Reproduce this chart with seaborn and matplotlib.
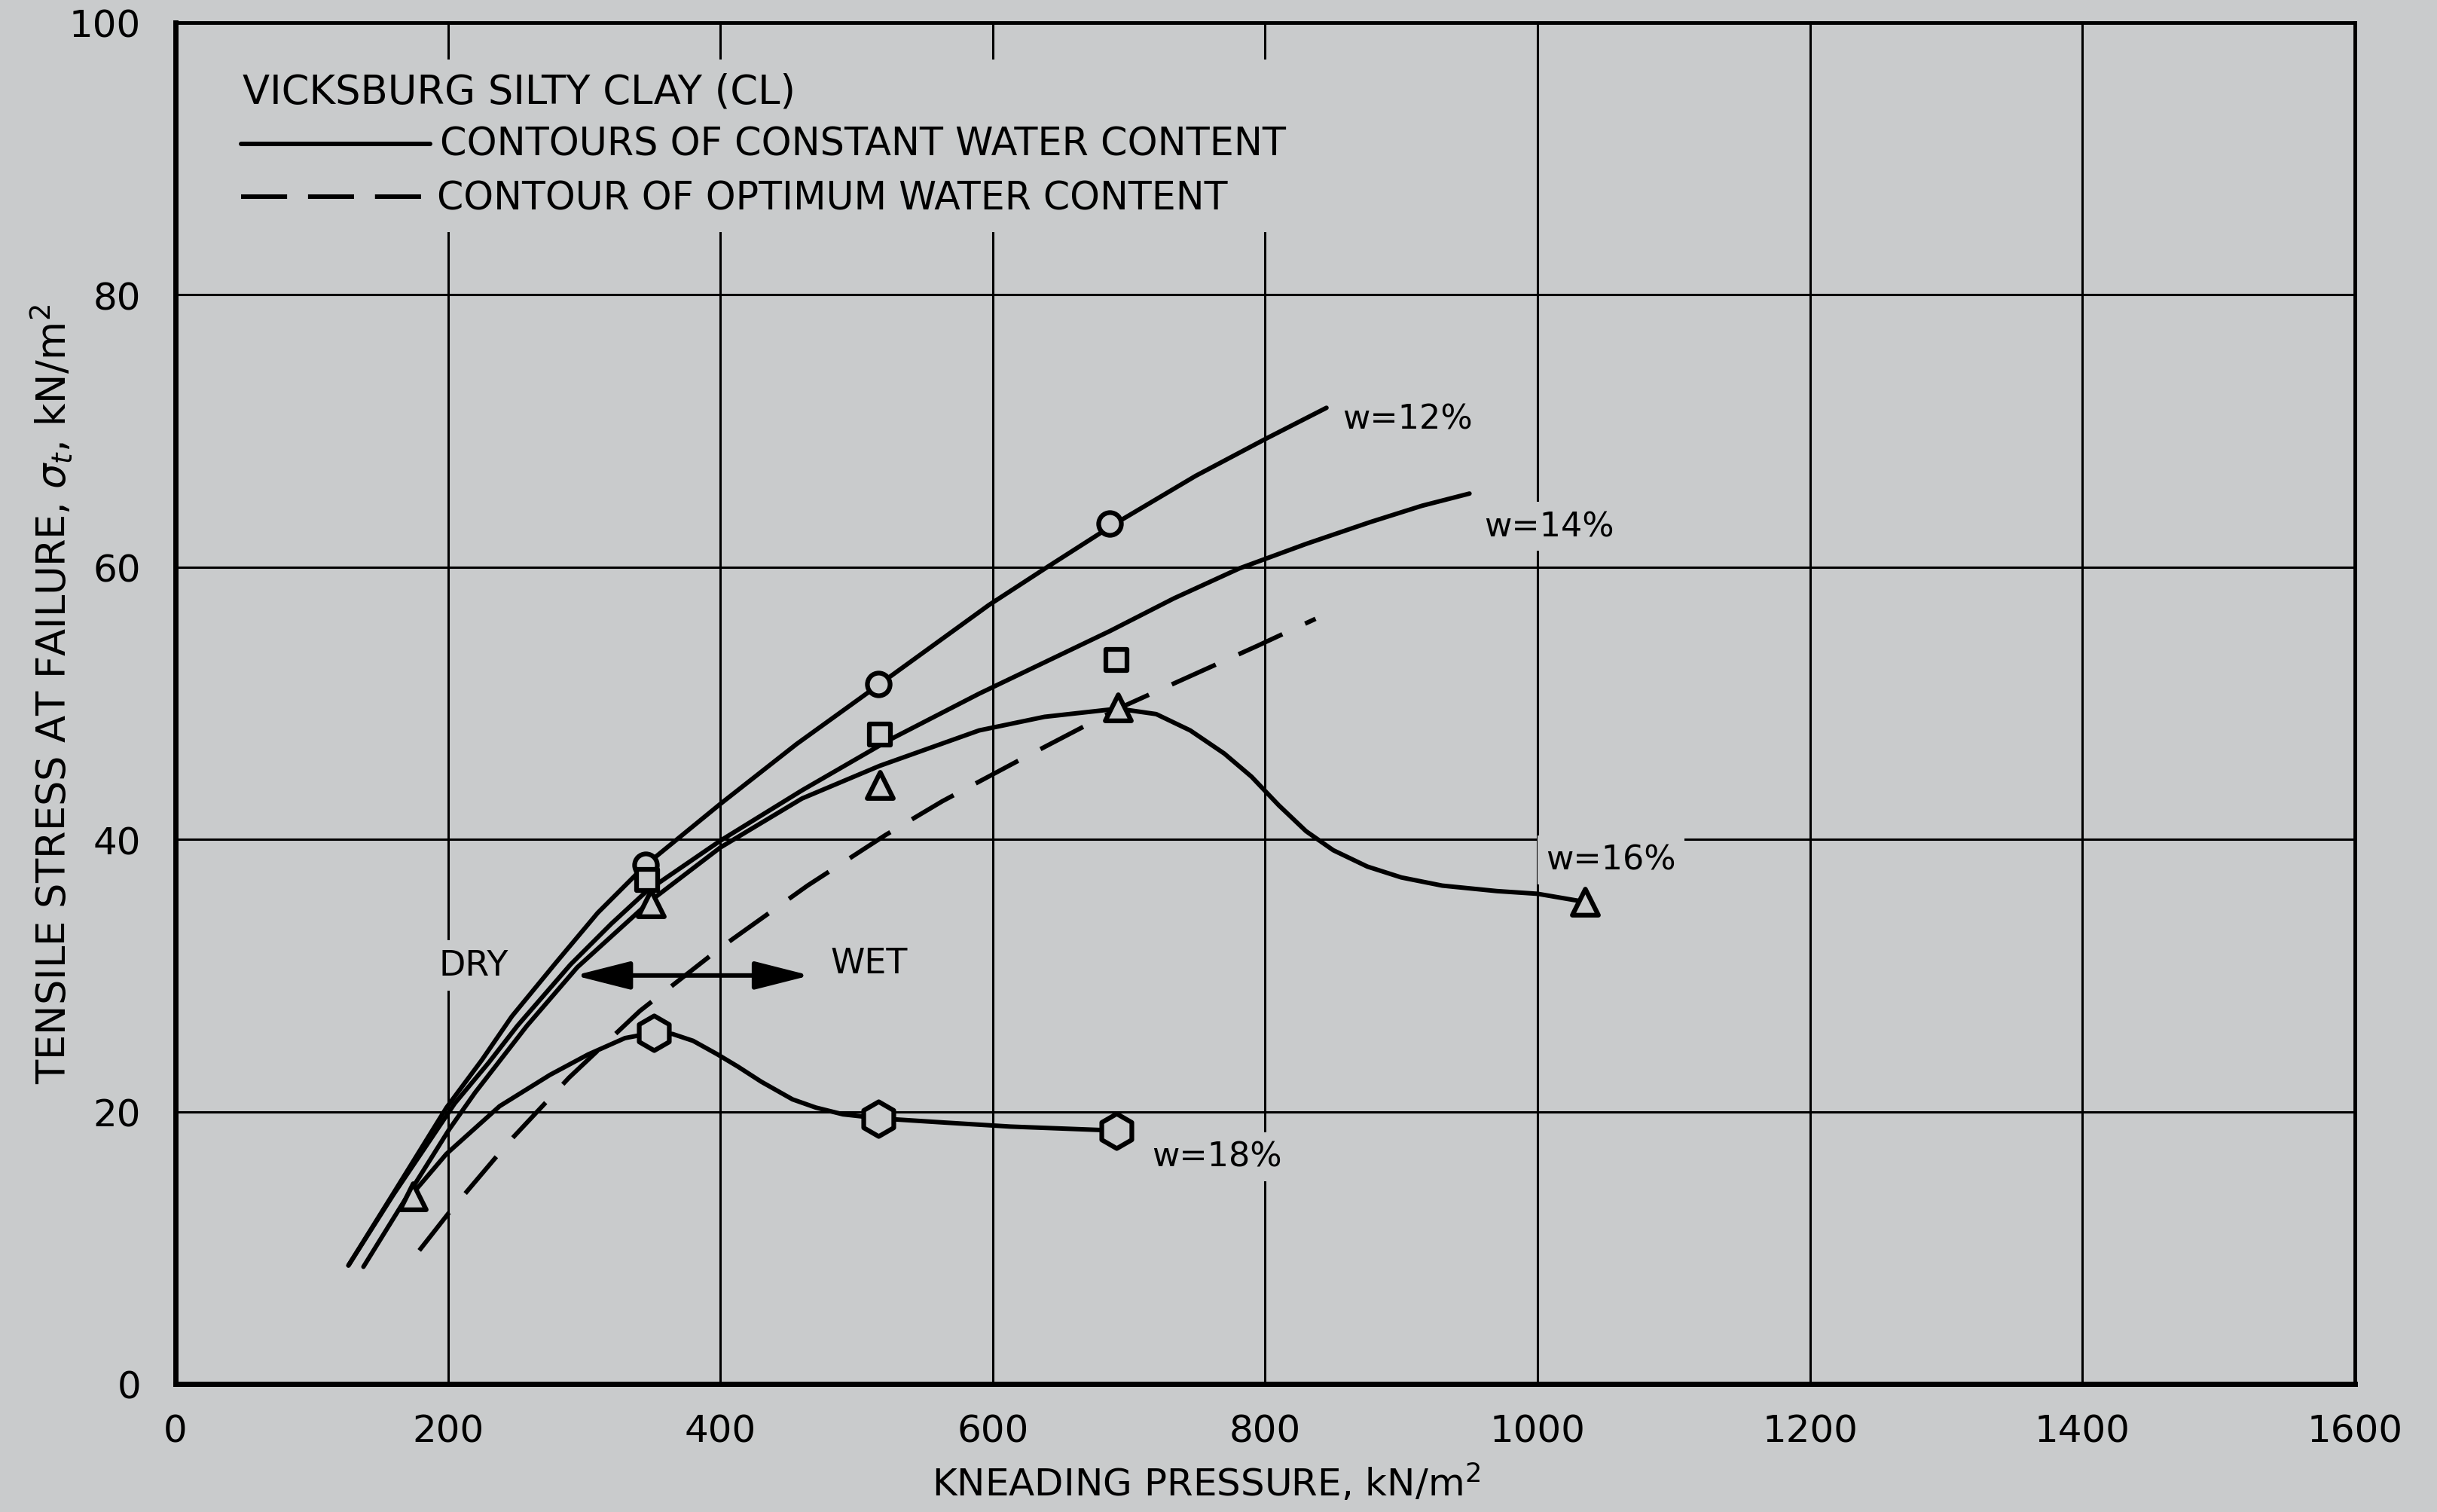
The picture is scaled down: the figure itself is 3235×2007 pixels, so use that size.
import matplotlib
matplotlib.use('Agg')
import matplotlib.pyplot as plt
import seaborn as sns
from matplotlib.patches import Rectangle

BG = '#c9cbcc'

# axis ticks
x_ticks = [0, 200, 400, 600, 800, 1000, 1200, 1400, 1600]
y_ticks = [0, 20, 40, 60, 80, 100]

# measured points, kneading pressure (kN/m2) vs tensile stress (kN/m2)
circle_x = [345, 516, 686]
circle_y = [38.1, 51.4, 63.2]
square_x = [346, 517, 691]
square_y = [37.0, 47.7, 53.2]
triangle_x = [174, 349, 517, 692, 1035]
triangle_y = [13.8, 35.3, 44.0, 49.7, 35.4]
hexagon_x = [351, 516, 691]
hexagon_y = [25.8, 19.5, 18.6]

# contours of constant water content
w12_x = [127, 160, 199, 225, 247, 279, 310, 345, 400, 456, 517, 597, 640, 690, 749, 800, 845]
w12_y = [8.7, 14.0, 20.3, 23.8, 27.0, 30.9, 34.6, 38.1, 42.6, 47.0, 51.4, 57.2, 60.0, 63.2, 66.7, 69.4, 71.7]
w14_x = [127, 160, 205, 230, 251, 290, 320, 346, 400, 460, 524, 590, 686, 733, 781, 830, 877, 915, 950]
w14_y = [8.7, 13.9, 20.6, 23.6, 26.3, 30.8, 33.8, 36.2, 39.9, 43.6, 47.3, 50.7, 55.3, 57.7, 59.9, 61.7,
         63.3, 64.5, 65.4]
w16_x = [138, 164, 201, 220, 258, 295, 349, 400, 460, 517, 590, 638, 692, 720, 745, 770, 790,
         810, 830, 850, 875, 900, 930, 970, 1000, 1035]
w16_y = [8.6, 12.8, 18.7, 21.4, 26.3, 30.6, 35.5, 39.4, 43.0, 45.4, 48.0, 49.0, 49.6, 49.2, 48.0, 46.3, 44.6,
         42.5, 40.6, 39.2, 38.0, 37.2, 36.6, 36.2, 36.0, 35.4]
w18_x = [176, 199, 238, 275, 303, 330, 351, 365, 380, 398, 413, 430, 453, 470, 490, 517, 564, 613, 692]
w18_y = [14.2, 16.9, 20.4, 22.7, 24.2, 25.4, 25.8, 25.7, 25.2, 24.2, 23.3, 22.2, 20.9, 20.3, 19.8, 19.5,
         19.2, 18.9, 18.6]

# contour of optimum water content
opt_x = [179, 201, 245, 289, 341, 401, 464, 521, 563, 623, 692, 794, 837]
opt_y = [9.8, 12.6, 17.8, 22.5, 27.4, 32.1, 36.6, 40.3, 42.8, 46.0, 49.6, 54.2, 56.2]

sns.set_theme(style='white')
plt.rcParams['font.family'] = ['DejaVu Sans']
plt.rcParams['lines.scale_dashes'] = False
plt.rcParams['mathtext.fontset'] = 'dejavusans'
plt.rcParams['text.color'] = 'black'
plt.rcParams['axes.labelcolor'] = 'black'

fig = plt.figure(figsize=(32.35, 20.08), dpi=100, facecolor=BG)
ax = fig.add_axes([0.072, 0.0847, 0.8943, 0.8999])
ax.set_facecolor(BG)

ax.set_xlim(0, 1600)
ax.set_ylim(0, 100)
ax.set_xticks(x_ticks)
ax.set_yticks(y_ticks)
ax.set_axisbelow(True)
ax.grid(True, color='black', linewidth=2.2)
ax.tick_params(axis='both', length=0, labelsize=36, colors='black')
ax.tick_params(axis='y', pad=33)
ax.tick_params(axis='x', pad=28)
for name, sp in ax.spines.items():
    sp.set_color('black')
    sp.set_linewidth(5 if name in ('left', 'bottom') else 3.5)

# blank patch behind the legend text
ax.add_patch(Rectangle((15, 84.6), 840, 12.7, facecolor=BG, edgecolor='none', zorder=1))

dash = (0, (46, 24))
for xs, ys in [(w12_x, w12_y), (w14_x, w14_y), (w16_x, w16_y), (w18_x, w18_y)]:
    sns.lineplot(x=xs, y=ys, estimator=None, sort=False, color='black', linewidth=4.3, ax=ax, zorder=2)
sns.lineplot(x=opt_x, y=opt_y, estimator=None, sort=False, color='black', linewidth=4.3,
             linestyle=dash, ax=ax, zorder=2)

mk = dict(color=BG, edgecolor='black', linewidth=4.5, zorder=5, ax=ax, legend=False)
sns.scatterplot(x=circle_x, y=circle_y, marker='o', s=470, **mk)
sns.scatterplot(x=square_x, y=square_y, marker='s', s=420, **mk)
sns.scatterplot(x=triangle_x, y=triangle_y, marker='^', s=620, **mk)
sns.scatterplot(x=hexagon_x, y=hexagon_y, marker='h', s=1100, **mk)

# legend block
ax.text(49, 94.1, 'VICKSBURG SILTY CLAY (CL)', fontsize=38, va='baseline', zorder=6)
ax.plot([48, 187], [91.1, 91.1], color='black', linewidth=4.3, zorder=6)
ax.text(194, 90.3, 'CONTOURS OF CONSTANT WATER CONTENT', fontsize=36.6, va='baseline', zorder=6)
ax.plot([48, 187], [87.2, 87.2], color='black', linewidth=4.3, linestyle=(0, (44, 20)), zorder=6)
ax.text(192, 86.3, 'CONTOUR OF OPTIMUM WATER CONTENT', fontsize=36.4, va='baseline', zorder=6)

box = dict(facecolor=BG, edgecolor='none', pad=8)
ax.text(857, 70.2, 'w=12%', fontsize=32, va='baseline', bbox=box, zorder=6)
ax.text(961, 62.3, 'w=14%', fontsize=32, va='baseline', bbox=box, zorder=6)
ax.text(1006, 37.8, 'w=16%', fontsize=32, va='baseline', bbox=box, zorder=6)
ax.text(717, 16.0, 'w=18%', fontsize=32, va='baseline', bbox=box, zorder=6)
ax.text(219, 30.05, 'DRY', fontsize=33, ha='center', va='baseline', bbox=box, zorder=6)
ax.text(481, 30.2, 'WET', fontsize=33, va='baseline', zorder=6)
ax.annotate('', xy=(293, 30), xytext=(466, 30), zorder=6,
            arrowprops=dict(arrowstyle='<|-|>,head_length=1.5,head_width=0.38',
                            lw=4.3, color='black', shrinkA=0, shrinkB=0, mutation_scale=30))

ax.set_xlabel('KNEADING PRESSURE, kN/m$^2$', fontsize=36, color='black')
ax.set_ylabel('TENSILE STRESS AT FAILURE, $\\sigma_t$, kN/m$^2$', fontsize=38, color='black')
ax.xaxis.label.set_va('center')
ax.yaxis.label.set_va('center')
ax.xaxis.set_label_coords(0.473, -0.072)
ax.yaxis.set_label_coords(-0.057, 0.507)

fig.savefig('out.png', dpi=100, facecolor=BG)
